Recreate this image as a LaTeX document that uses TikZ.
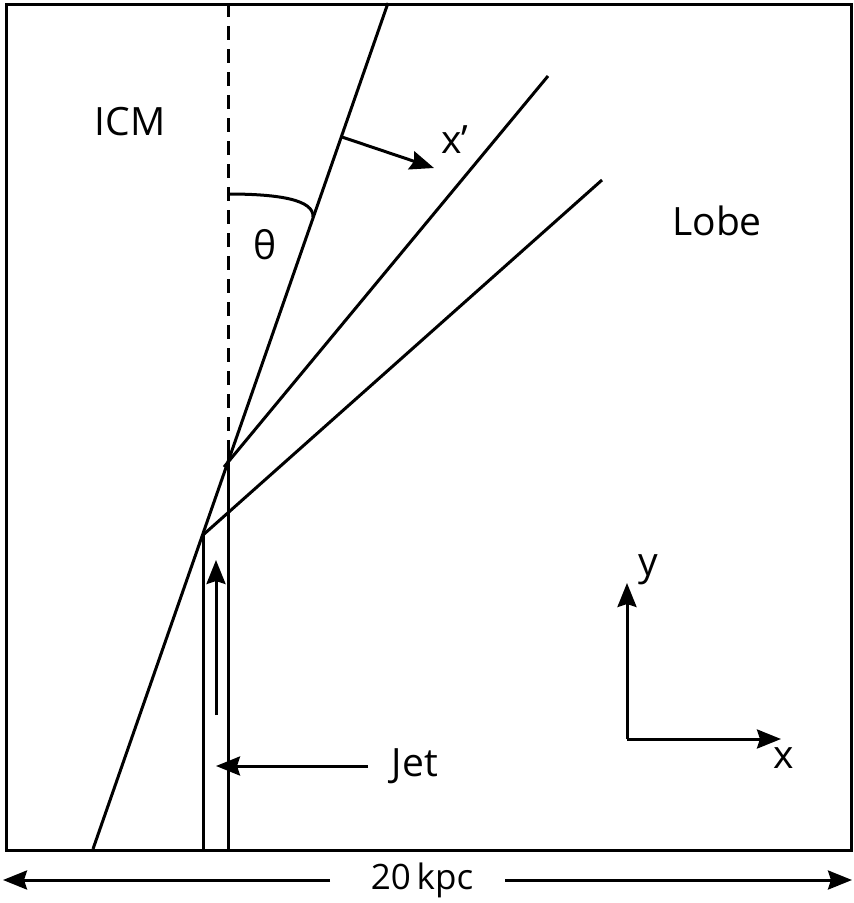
\documentclass[tikz,border=0pt]{standalone}
\usepackage{fontspec}
\setmainfont{Open Sans}
\usetikzlibrary{arrows.meta}
\begin{document}
\begin{tikzpicture}[x=1pt,y=-1pt,line width=3pt,
  arr/.style={-{Stealth[length=24pt,width=19pt,inset=3pt]}},
  lab/.style={font=\fontsize{39}{44}\selectfont, inner sep=0pt}]
\useasboundingbox (0,0) rectangle (854,903);
\node[draw,minimum width=845pt,minimum height=846pt,anchor=north west,line width=3pt,inner sep=0pt] (box) at (5,3) {};
\coordinate (d1) at (228,3); \coordinate (d2) at (228,452);
\draw[dashed,dash pattern=on 14pt off 9pt] (d1) -- (d2);
\coordinate (a1) at (93,849); \coordinate (a2) at (388,3);
\draw (a1) -- (a2);
\coordinate (b1) at (224,467); \coordinate (b2) at (548,76);
\draw (b1) -- (b2);
\coordinate (c1) at (203,535); \coordinate (c2) at (602,180);
\draw (c1) -- (c2);
\coordinate (j1) at (203,535); \coordinate (j2) at (203,849);
\coordinate (j3) at (228,452); \coordinate (j4) at (228,849);
\draw (j1) -- (j2); \draw (j3) -- (j4);
\coordinate (f1) at (216,715); \coordinate (f2) at (216,560);
\draw[arr] (f1) -- (f2);
\node[lab] (jet) at (415,766) {Jet};
\coordinate (jt) at (216,766);
\draw[arr] (368,766) -- (jt);
\coordinate (t1) at (228,194); \coordinate (t2) at (313,217);
\draw (t1) .. controls (280,194) and (314,200) .. (t2);
\node[lab] (th) at (265,245) {θ};
\coordinate (x1) at (342,137); \coordinate (x2) at (434,168);
\draw[arr] (x1) -- (x2);
\node[lab] (xp) at (455,140) {x’};
\node[lab] (icm) at (130,122) {ICM};
\node[lab] (lobe) at (717,221) {Lobe};
\coordinate (o) at (627,739);
\coordinate (oy) at (627,583); \coordinate (ox) at (781,739);
\draw[arr] (o) -- (oy);
\draw[arr] (o) -- (ox);
\node[lab] (ly) at (648,570) {y};
\node[lab] (lx) at (784,758) {x};
\node[lab,font=\fontsize{35}{40}\selectfont] (kpc) at (422,880) {20\,kpc};
\coordinate (k1) at (3,880); \coordinate (k2) at (852,880);
\draw[arr] (330,880) -- (k1);
\draw[arr] (505,880) -- (k2);
\end{tikzpicture}
\end{document}
